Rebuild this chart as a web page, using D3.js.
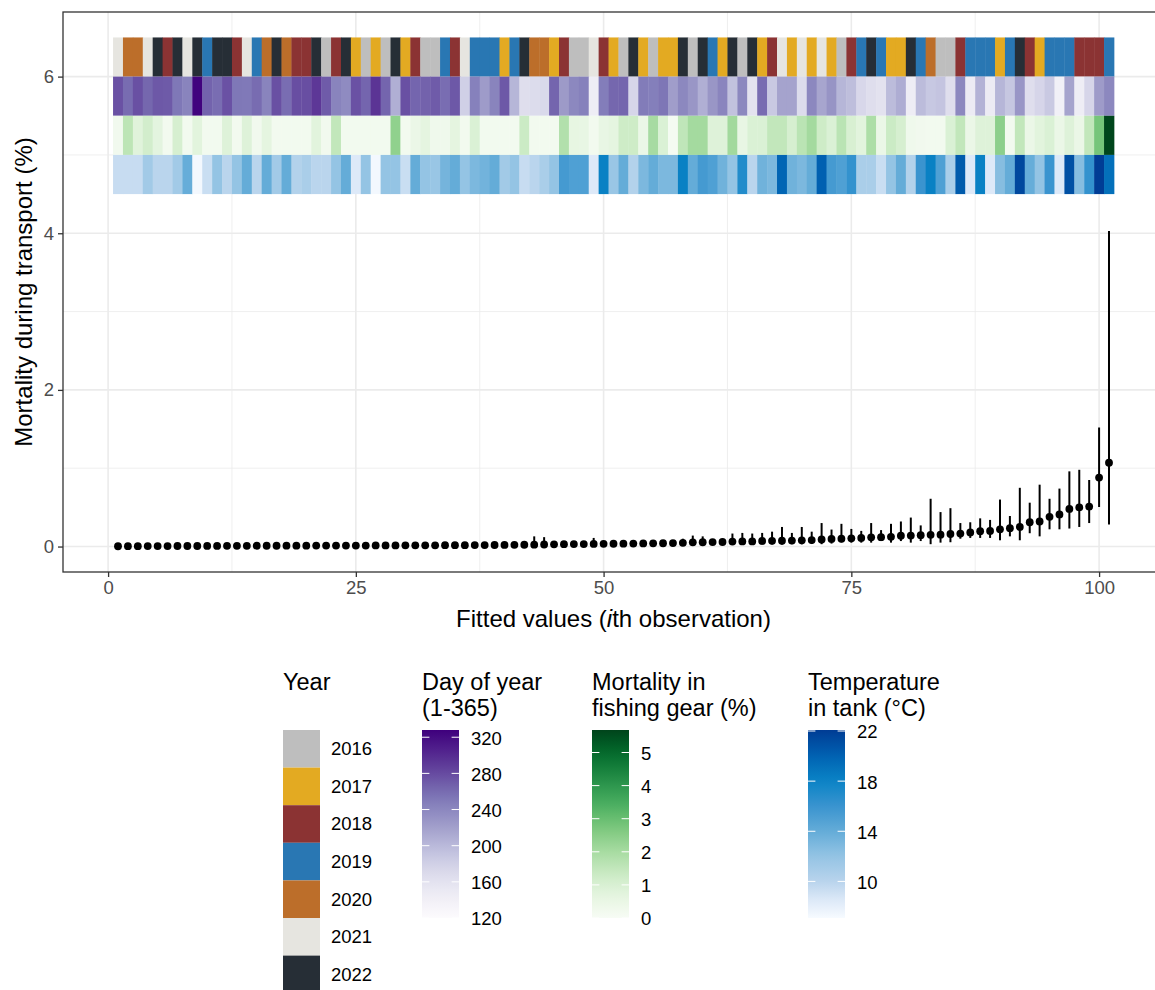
<!DOCTYPE html>
<html>
<head>
<meta charset="utf-8">
<script src="https://cdn.jsdelivr.net/npm/d3@7"></script>
<style>
  body { margin: 0; background: #fff; }
  svg { font-family: "Liberation Sans", Arial, sans-serif; display: block; }
</style>
</head>
<body>
<div class="chart-container"></div>
<script>

// fitted values, sorted (i-th observation = index + 1)
var fitMean = [0.004,0.005,0.005,0.006,0.006,0.006,0.007,0.007,0.007,0.008,
  0.008,0.009,0.009,0.009,0.010,0.010,0.010,0.011,0.011,0.011,
  0.012,0.012,0.012,0.013,0.013,0.013,0.014,0.014,0.014,0.015,
  0.015,0.016,0.016,0.017,0.017,0.018,0.019,0.019,0.020,0.021,
  0.022,0.023,0.024,0.026,0.028,0.030,0.031,0.032,0.034,0.035,
  0.036,0.037,0.038,0.040,0.041,0.042,0.044,0.047,0.054,0.055,
  0.057,0.058,0.064,0.065,0.066,0.072,0.073,0.074,0.076,0.080,
  0.082,0.090,0.097,0.100,0.105,0.110,0.118,0.120,0.124,0.138,
  0.140,0.145,0.150,0.152,0.160,0.165,0.180,0.195,0.200,0.220,
  0.235,0.250,0.310,0.320,0.380,0.410,0.480,0.500,0.510,0.880,
  1.070];
var fitUpper = [0.012,0.013,0.013,0.014,0.015,0.015,0.016,0.016,0.017,0.018,
  0.018,0.019,0.020,0.020,0.021,0.022,0.022,0.023,0.024,0.024,
  0.025,0.026,0.026,0.027,0.028,0.028,0.029,0.030,0.031,0.032,
  0.033,0.034,0.035,0.036,0.037,0.038,0.040,0.041,0.042,0.044,
  0.046,0.050,0.130,0.120,0.052,0.060,0.060,0.062,0.110,0.064,
  0.066,0.068,0.070,0.072,0.075,0.076,0.080,0.100,0.140,0.130,
  0.090,0.092,0.166,0.174,0.166,0.174,0.190,0.250,0.174,0.250,
  0.190,0.300,0.217,0.290,0.225,0.200,0.300,0.210,0.290,0.320,
  0.370,0.270,0.610,0.440,0.490,0.300,0.310,0.360,0.340,0.600,
  0.390,0.750,0.560,0.790,0.610,0.740,0.960,0.980,0.850,1.520,
  4.030];
var fitLower = [0.001,0.001,0.001,0.002,0.002,0.002,0.002,0.002,0.002,0.003,
  0.003,0.003,0.003,0.003,0.003,0.004,0.004,0.004,0.004,0.004,
  0.004,0.004,0.005,0.005,0.005,0.005,0.005,0.005,0.006,0.006,
  0.006,0.006,0.006,0.007,0.007,0.007,0.007,0.008,0.008,0.008,
  0.009,0.009,0.006,0.007,0.010,0.011,0.012,0.012,0.010,0.013,
  0.014,0.014,0.015,0.016,0.016,0.017,0.018,0.016,0.018,0.019,
  0.022,0.023,0.022,0.024,0.025,0.026,0.027,0.025,0.030,0.028,
  0.032,0.030,0.038,0.050,0.050,0.050,0.050,0.070,0.050,0.070,
  0.050,0.070,0.030,0.050,0.055,0.100,0.110,0.110,0.110,0.080,
  0.130,0.080,0.170,0.130,0.220,0.220,0.230,0.250,0.300,0.505,
  0.280];

// covariates per observation (strips on top)
var obsYear = [2021,2020,2020,2021,2022,2018,2022,2021,2022,2019,
  2022,2022,2018,2021,2019,2020,2022,2020,2018,2018,
  2022,2016,2018,2022,2017,2016,2017,2016,2022,2017,
  2018,2016,2016,2019,2018,2021,2019,2019,2019,2017,
  2019,2022,2020,2020,2017,2018,2016,2016,2021,2018,
  2017,2016,2022,2017,2016,2017,2017,2022,2016,2022,
  2019,2017,2022,2016,2022,2017,2018,2021,2017,2021,
  2017,2021,2017,2016,2018,2019,2022,2019,2017,2017,
  2022,2019,2020,2016,2016,2018,2019,2019,2019,2017,
  2019,2022,2018,2017,2019,2019,2019,2018,2018,2018,
  2019];
var obsDay = [276,260,277,263,272,271,252,243,326,265,
  259,276,252,251,260,243,277,259,278,278,
  292,270,243,237,276,264,294,264,208,277,
  264,266,270,259,272,180,245,224,243,272,
  203,165,168,171,264,225,240,245,145,248,
  263,264,175,249,247,253,222,240,228,208,
  228,242,193,240,160,260,187,218,218,168,
  240,216,230,203,196,173,165,160,198,210,
  145,198,188,191,165,240,148,206,148,203,
  189,228,165,175,187,140,218,145,175,224,
  240];
var obsGear = [0.25,1.6,0.8,1.15,0.7,0.2,1.05,0.2,0.75,0.2,
  0.2,0.85,0.2,0.85,0.25,0.65,0.2,0.2,0.2,0.2,
  0.75,0.25,1.5,0.2,0.2,0.2,0.2,0.2,2.4,0.2,
  0.45,0.65,0.3,0.3,0.65,0.2,0.95,0.2,0.2,0.2,
  0.2,1.3,0.2,0.2,0.2,1.8,0.6,0.55,0.2,0.55,
  0.65,1.25,1.25,0.45,2.0,0.95,0.1,1.55,2.05,2.05,
  0.85,0.85,2.1,0.55,0.95,0.95,1.5,1.5,1.05,1.65,
  2.05,1.25,0.95,1.65,1.0,0.75,1.9,0.45,1.3,1.05,
  0.3,0.25,0.2,0.2,0.95,1.5,0.45,0.85,0.85,2.45,
  0.2,1.5,0.45,0.75,0.95,0.45,0.85,0.45,1.5,2.8,
  5.65];
var obsTemp = [9.4,9.4,9.4,11.2,9.9,9.9,11.2,13.9,7.3,9.3,
  12.0,9.9,12.0,14.0,9.9,14.0,11.2,14.0,10.3,10.8,
  9.9,9.9,12.0,14.0,8.5,12.0,7.3,12.0,12.0,9.3,
  14.0,12.0,11.7,13.3,14.0,12.0,13.0,13.4,14.0,11.2,
  12.0,9.4,9.9,10.8,12.0,15.5,15.0,15.0,8.5,18.2,
  11.7,14.0,10.3,13.0,14.0,13.0,13.0,18.2,14.0,15.5,
  15.0,13.5,12.0,17.0,9.9,13.5,13.0,19.8,13.5,13.0,
  14.0,20.1,15.5,15.0,16.3,10.8,10.8,9.3,12.0,14.0,
  10.3,16.0,18.2,15.0,10.8,20.4,8.5,18.2,8.5,12.6,
  14.0,21.4,13.9,12.0,16.0,8.5,21.0,12.6,16.3,22.0,
  19.2];

var years = [2016, 2017, 2018, 2019, 2020, 2021, 2022];
var yearColors = ["#bebebe", "#e3aa22", "#8b3333", "#2977b3", "#bc6e2a", "#e6e5e0", "#262e36"];

var dayLimits = [120, 328], dayBreaks = [120, 160, 200, 240, 280, 320];
var gearLimits = [0, 5.68], gearBreaks = [0, 1, 2, 3, 4, 5];
var tempLimits = [7.08, 22.08], tempBreaks = [10, 14, 18, 22];
var tempStops = [7.08, 8.5, 10, 12, 14, 16, 18, 20, 22.08];
var tempStopColors = ["#f7fbff", "#dde9f8", "#b8d4ec", "#94c4e4", "#64acd8", "#3a94cf", "#0a84c6", "#0062b2", "#003c94"];

var xTicks = [0, 25, 50, 75, 100], xMinor = [12.5, 37.5, 62.5, 87.5];
var yTicks = [0, 2, 4, 6], yMinor = [1, 3, 5];

var width = 1155,
    height = 990;

var x = d3.scaleLinear().domain([-4.55, 106.55]).range([63, 1164]);
var y = d3.scaleLinear().domain([-0.325, 6.825]).range([572, 12]);

var yearColor = d3.scaleOrdinal().domain(years).range(yearColors);
var dayColor = d3.scaleSequential(d3.interpolatePurples).domain(dayLimits);
var gearColor = d3.scaleSequential(d3.interpolateGreens).domain(gearLimits);
var tempColor = d3.scaleLinear().domain(tempStops).range(tempStopColors).clamp(true);

var svg = d3.select(".chart-container").append("svg")
    .attr("width", width)
    .attr("height", height);

var defs = svg.append("defs");
defs.append("clipPath").attr("id", "panel-clip")
  .append("rect")
    .attr("x", 63).attr("y", 12)
    .attr("width", 1164 - 63).attr("height", 572 - 12);

var panel = svg.append("g").attr("clip-path", "url(#panel-clip)");

panel.append("rect")
    .attr("x", 63).attr("y", 12)
    .attr("width", 1164 - 63).attr("height", 560)
    .attr("fill", "#fff");

// grid
panel.selectAll(".xminor").data(xMinor).enter().append("line")
    .attr("x1", d => x(d)).attr("x2", d => x(d))
    .attr("y1", 12).attr("y2", 572)
    .attr("stroke", "#ebebeb").attr("stroke-width", 0.8);
panel.selectAll(".yminor").data(yMinor).enter().append("line")
    .attr("x1", 63).attr("x2", 1164)
    .attr("y1", d => y(d)).attr("y2", d => y(d))
    .attr("stroke", "#ebebeb").attr("stroke-width", 0.8);
panel.selectAll(".xmajor").data(xTicks).enter().append("line")
    .attr("x1", d => x(d)).attr("x2", d => x(d))
    .attr("y1", 12).attr("y2", 572)
    .attr("stroke", "#ebebeb").attr("stroke-width", 1.6);
panel.selectAll(".ymajor").data(yTicks).enter().append("line")
    .attr("x1", 63).attr("x2", 1164)
    .attr("y1", d => y(d)).attr("y2", d => y(d))
    .attr("stroke", "#ebebeb").attr("stroke-width", 1.6);

// covariate strips
var strips = [
  { vals: obsYear, color: yearColor, lo: 6.0 },
  { vals: obsDay, color: dayColor, lo: 5.5 },
  { vals: obsGear, color: gearColor, lo: 5.0 },
  { vals: obsTemp, color: tempColor, lo: 4.5 }
];
strips.forEach(function(s) {
  panel.append("g").selectAll("rect").data(s.vals).enter().append("rect")
      .attr("x", (d, i) => x(i + 0.5))
      .attr("width", x(1) - x(0) + 0.4)
      .attr("y", y(s.lo + 0.5))
      .attr("height", y(s.lo) - y(s.lo + 0.5))
      .attr("fill", d => s.color(d));
});

// error bars + points
panel.append("g").selectAll("line").data(fitMean).enter().append("line")
    .attr("x1", (d, i) => x(i + 1)).attr("x2", (d, i) => x(i + 1))
    .attr("y1", (d, i) => y(fitLower[i])).attr("y2", (d, i) => y(fitUpper[i]))
    .attr("stroke", "#000").attr("stroke-width", 2);
panel.append("g").selectAll("circle").data(fitMean).enter().append("circle")
    .attr("cx", (d, i) => x(i + 1))
    .attr("cy", d => y(d))
    .attr("r", 3.9)
    .attr("fill", "#000");

svg.append("rect")
    .attr("x", 63).attr("y", 12)
    .attr("width", 1164 - 63).attr("height", 560)
    .attr("fill", "none").attr("stroke", "#333").attr("stroke-width", 1.3);

// axes
var xAxis = svg.append("g")
    .attr("transform", "translate(0,572)")
    .call(d3.axisBottom(x).tickValues(xTicks).tickSize(5).tickSizeOuter(0).tickPadding(4));
var yAxis = svg.append("g")
    .attr("transform", "translate(63,0)")
    .call(d3.axisLeft(y).tickValues(yTicks).tickSize(5).tickSizeOuter(0).tickPadding(4));
[xAxis, yAxis].forEach(function(a) {
  a.select(".domain").remove();
  a.selectAll(".tick line").attr("stroke", "#333").attr("stroke-width", 1.3);
  a.selectAll(".tick text").attr("fill", "#4d4d4d")
      .style("font-size", "18.5px").style("font-family", "'Liberation Sans', Arial, sans-serif");
});

var xTitle = svg.append("text")
    .attr("x", (63 + 1164) / 2).attr("y", 627)
    .attr("text-anchor", "middle")
    .style("font-size", "24px");
xTitle.append("tspan").text("Fitted values (");
xTitle.append("tspan").style("font-style", "italic").text("i");
xTitle.append("tspan").text("th observation)");

svg.append("text")
    .attr("transform", "translate(32," + (12 + 572) / 2 + ") rotate(-90)")
    .attr("text-anchor", "middle")
    .style("font-size", "24px")
    .text("Mortality during transport (%)");

// legends
var legTop = 730, legBottom = 918, keyW = 37;

var yl = svg.append("g");
yl.append("text").attr("x", 283).attr("y", 690).style("font-size", "23.5px").text("Year");
var keyH = (legBottom - legTop) / 5;
yl.selectAll("rect").data(years).enter().append("rect")
    .attr("x", 283).attr("y", (d, i) => legTop + i * keyH)
    .attr("width", keyW).attr("height", keyH)
    .attr("fill", d => yearColor(d));
yl.selectAll(".lab").data(years).enter().append("text")
    .attr("x", 331).attr("y", (d, i) => legTop + (i + 0.5) * keyH)
    .attr("dy", "0.35em")
    .style("font-size", "18.5px")
    .text(d => d);

function colorbar(x0, titles, limits, breaks, scale, id) {
  var g = svg.append("g");
  titles.forEach(function(t, i) {
    g.append("text").attr("x", x0).attr("y", 690 + i * 25.5).style("font-size", "23.5px").text(t);
  });
  var pos = d3.scaleLinear().domain(limits).range([legBottom, legTop]);
  var grad = defs.append("linearGradient").attr("id", id)
      .attr("x1", 0).attr("y1", 1).attr("x2", 0).attr("y2", 0);
  d3.range(0, 1.0001, 0.05).forEach(function(t) {
    grad.append("stop").attr("offset", t)
        .attr("stop-color", scale(limits[0] + t * (limits[1] - limits[0])));
  });
  g.append("rect").attr("x", x0).attr("y", legTop)
      .attr("width", keyW).attr("height", legBottom - legTop)
      .attr("fill", "url(#" + id + ")");
  var inb = breaks.filter(b => b >= limits[0] && b <= limits[1]);
  g.selectAll(".tl").data(inb).enter().append("line")
      .attr("x1", x0).attr("x2", x0 + keyW * 0.2)
      .attr("y1", d => pos(d)).attr("y2", d => pos(d))
      .attr("stroke", "#fff").attr("stroke-width", 1);
  g.selectAll(".tr").data(inb).enter().append("line")
      .attr("x1", x0 + keyW * 0.8).attr("x2", x0 + keyW)
      .attr("y1", d => pos(d)).attr("y2", d => pos(d))
      .attr("stroke", "#fff").attr("stroke-width", 1);
  g.selectAll(".lab").data(breaks).enter().append("text")
      .attr("x", x0 + keyW + 12).attr("y", d => pos(d) + 1)
      .attr("dy", "0.35em")
      .style("font-size", "18.5px")
      .text(d => d);
}

colorbar(422, ["Day of year", "(1-365)"], dayLimits, dayBreaks, dayColor, "g-day");
colorbar(592, ["Mortality in", "fishing gear (%)"], gearLimits, gearBreaks, gearColor, "g-gear");
colorbar(808, ["Temperature", "in tank (\u00b0C)"], tempLimits, tempBreaks, tempColor, "g-temp");

</script>
</body>
</html>
